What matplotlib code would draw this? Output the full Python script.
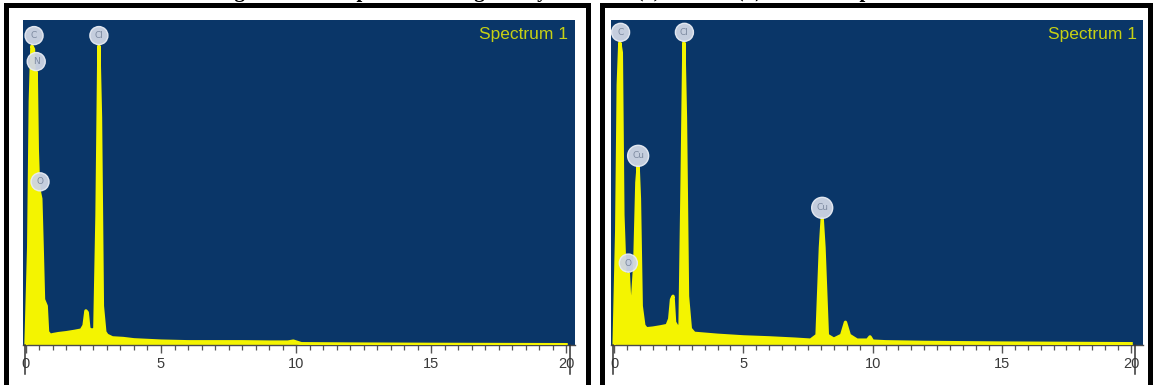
import matplotlib
matplotlib.use("Agg")
import matplotlib.pyplot as plt
from matplotlib.patches import Rectangle
from matplotlib.ticker import MultipleLocator
import matplotlib.transforms as mtransforms

# ---------------- data ----------------
left_energy = [0.00, 0.10, 0.16, 0.22, 0.28, 0.33, 0.38, 0.42, 0.46, 0.50, 0.55, 0.60,
               0.65, 0.70, 0.75, 0.80, 0.90, 1.00, 1.20, 1.50, 1.80, 2.05, 2.15, 2.22,
               2.27, 2.33, 2.45, 2.55, 2.63, 2.70, 2.76, 2.83, 2.92, 3.00, 3.20, 3.60,
               4.00, 5.00, 6.00, 7.00, 8.00, 9.00, 9.70, 9.90, 10.2, 12.0, 15.0, 20.0]
left_counts = [0.0, 30.0, 75.0, 92.0, 91.0, 70.0, 84.0, 60.0, 50.0, 47.0, 45.0, 30.0,
               14.0, 13.0, 12.0, 4.0, 3.0, 3.2, 3.5, 3.8, 4.2, 4.6, 6.0, 10.5,
               10.0, 5.0, 4.5, 5.0, 40.0, 92.0, 70.0, 12.0, 4.0, 3.0, 2.2, 2.0,
               1.6, 1.2, 1.0, 1.0, 1.0, 0.9, 0.9, 1.2, 0.4, 0.3, 0.2, 0.1]

right_energy = [0.00, 0.10, 0.16, 0.22, 0.28, 0.34, 0.42, 0.50, 0.55, 0.60, 0.66, 0.72,
                0.80, 0.88, 0.93, 0.98, 1.05, 1.15, 1.25, 1.50, 1.80, 2.05, 2.15, 2.22,
                2.28, 2.34, 2.45, 2.55, 2.63, 2.70, 2.76, 2.84, 2.95, 3.10, 3.40, 4.00,
                5.00, 6.00, 7.00, 7.60, 7.85, 7.98, 8.05, 8.12, 8.25, 8.50, 8.80, 8.95,
                9.10, 9.40, 9.80, 9.90, 10.0, 10.5, 12.0, 15.0, 20.0]
right_counts = [0.0, 35.0, 80.0, 93.0, 90.0, 40.0, 22.0, 20.0, 22.0, 14.0, 12.0, 15.0,
                25.0, 50.0, 55.0, 45.0, 12.0, 6.0, 5.0, 5.2, 5.6, 6.0, 8.0, 14.0,
                15.0, 7.0, 5.5, 6.0, 50.0, 93.0, 70.0, 15.0, 5.0, 3.6, 3.4, 3.0,
                2.5, 2.2, 1.8, 1.5, 3.0, 30.0, 39.0, 30.0, 3.0, 1.8, 3.0, 7.0,
                3.0, 1.5, 1.5, 2.5, 1.2, 1.0, 0.8, 0.6, 0.4]

left_peak_labels = ["C", "N", "O", "Cl"]
left_peak_energy = [0.30, 0.38, 0.52, 2.70]
left_peak_counts = [92.0, 84.0, 47.0, 92.0]

right_peak_labels = ["C", "O", "Cu", "Cl", "Cu"]
right_peak_energy = [0.25, 0.55, 0.93, 2.72, 8.05]
right_peak_counts = [93.0, 22.0, 55.0, 93.0, 39.0]

xticks = [0, 5, 10, 15, 20]
xtick_labels = ["0", "5", "10", "15", "20"]
spectrum_title = "Spectrum 1"
figure_caption = "Figure 2: EDS spectra of the green synthesized (a) Cu and (b) CuO nanoparticles"

# ---------------- styling ----------------
W, H = 1153, 385
BLUE = "#0a3668"
YELLOW = "#f4f400"
LABEL_FC = "#cfd6e4"
LABEL_TC = "#7d8aa0"

fig = plt.figure(figsize=(W / 100, H / 100), dpi=100)
fig.patch.set_facecolor("white")


def px_rect(x0, y0, x1, y1):
    """pixel box (top-left origin) -> figure-fraction rect"""
    return [x0 / W, (H - y1) / H, (x1 - x0) / W, (y1 - y0) / H]


# panel frames
for (x0, x1) in [(5.5, 587.5), (602, 1149.5)]:
    fig.patches.append(Rectangle((x0 / W, -0.1), (x1 - x0) / W, (H - 4.5) / H + 0.1,
                                 transform=fig.transFigure, fill=False,
                                 edgecolor="black", linewidth=3.6, zorder=0))

# caption (only its lowest strip shows at the top edge)
fig.text(0.5, 1.0 + 2.5 / H, figure_caption, ha="center", va="baseline",
         fontsize=15, fontweight="bold", family="Liberation Serif", color="black")

panels = [
    dict(rect=px_rect(23, 20, 575, 345), xlim=(-0.11, 20.33),
         energy=left_energy, counts=left_counts,
         labels=left_peak_labels, pe=left_peak_energy, pc=left_peak_counts),
    dict(rect=px_rect(611, 20, 1143, 345), xlim=(-0.12, 20.46),
         energy=right_energy, counts=right_counts,
         labels=right_peak_labels, pe=right_peak_energy, pc=right_peak_counts),
]

for p in panels:
    ax = fig.add_axes(p["rect"])
    ax.set_facecolor(BLUE)
    ax.set_xlim(*p["xlim"])
    ax.set_ylim(0, 100)
    ax.fill_between(p["energy"], p["counts"], 0, color=YELLOW, linewidth=0, zorder=2)
    ax.plot(p["energy"], p["counts"], color=YELLOW, linewidth=2.4, zorder=3,
            solid_joinstyle="round")

    for lab, e, c in zip(p["labels"], p["pe"], p["pc"]):
        ax.annotate(lab, xy=(e, c), xytext=(0, 7.5), textcoords="offset points",
                    ha="center", va="center", fontsize=6.5, color=LABEL_TC,
                    bbox=dict(boxstyle="circle,pad=0.5", fc=LABEL_FC, ec="#e8ecf4",
                              lw=1.0, alpha=0.95), zorder=5, annotation_clip=False)

    ax.text(0.988, 0.955, spectrum_title, transform=ax.transAxes, ha="right", va="center",
            fontsize=12.5, color="#c6d014", family="Liberation Sans", zorder=6)

    for s in ["top", "right", "left"]:
        ax.spines[s].set_visible(False)
    ax.spines["bottom"].set_color("#4a4a4a")
    ax.spines["bottom"].set_linewidth(1.0)

    ax.set_yticks([])
    ax.set_xticks(xticks)
    ax.set_xticklabels(xtick_labels)
    ax.xaxis.set_minor_locator(MultipleLocator(0.5))
    ax.tick_params(axis="x", which="major", direction="out", length=6, width=1.0,
                   color="#555555", labelsize=10.5, labelcolor="#3a3a3a", pad=3)
    ax.tick_params(axis="x", which="minor", direction="out", length=3.5, width=0.9,
                   color="#555555")
    for t in ax.get_xticklabels():
        t.set_family("Liberation Sans")

    # vertical end marks below the axis
    trans = mtransforms.blended_transform_factory(ax.transData, ax.transAxes)
    for xe in (-0.05, 20.15):
        ax.plot([xe, xe], [0, -0.09], transform=trans, color="#333333",
                linewidth=1.1, clip_on=False, zorder=7)

fig.savefig("out.png", dpi=100, facecolor="white")
